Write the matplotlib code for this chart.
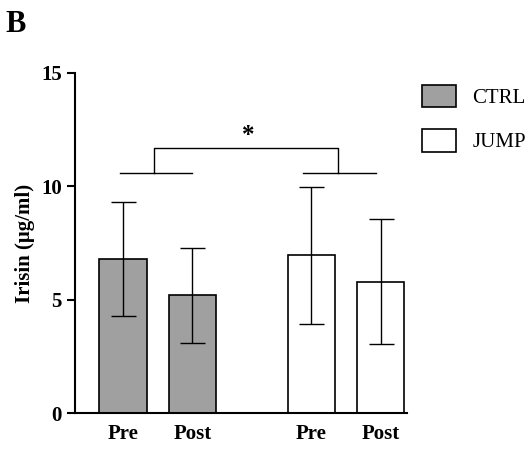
import matplotlib
matplotlib.use("Agg")
import matplotlib.pyplot as plt

plt.rcParams["font.family"] = ["Liberation Serif", "DejaVu Serif"]
plt.rcParams["font.weight"] = "bold"

groups = ["CTRL", "JUMP"]
tick_labels = ["Pre", "Post", "Pre", "Post"]
positions = [0, 1, 2.72, 3.72]
means = [6.8, 5.2, 6.95, 5.8]
errors = [2.5, 2.1, 3.0, 2.75]
colors = ["#a0a0a0", "#a0a0a0", "white", "white"]

fig = plt.figure(figsize=(5.27, 4.55), dpi=100)
ax = fig.add_axes([0.142, 0.092, 0.63, 0.748])

bars = ax.bar(positions, means, width=0.69, color=colors, edgecolor="black", linewidth=1.2)
ax.errorbar(positions, means, yerr=errors, fmt="none", ecolor="black",
            elinewidth=1.0, capsize=9, capthick=1.0)

# significance bracket
ax.plot([-0.05, 1.0], [10.6, 10.6], color="black", lw=1)
ax.plot([2.6, 3.65], [10.6, 10.6], color="black", lw=1)
ax.plot([0.45, 0.45, 3.1, 3.1], [10.6, 11.7, 11.7, 10.6], color="black", lw=1)
ax.text(1.8, 11.75, "*", ha="center", va="bottom", fontsize=18, fontweight="bold")

ax.set_ylim(0, 15)
ax.set_xlim(-0.7, 4.1)
ax.set_yticks([0, 5, 10, 15])
ax.set_xticks(positions)
ax.set_xticklabels(tick_labels)
ax.tick_params(axis="both", labelsize=15, width=1.5, length=6)
ax.tick_params(axis="x", length=0, pad=8)
for s in ["top", "right"]:
    ax.spines[s].set_visible(False)
ax.spines["bottom"].set_visible(False)
ax.spines["left"].set_linewidth(1.5)
ax.axhline(0, xmin=0, xmax=1, color="black", lw=1.5, clip_on=False)
ax.set_ylabel("Irisin (μg/ml)", fontsize=15, fontweight="bold")

ax.legend([bars[0], bars[2]], groups, loc="upper left", bbox_to_anchor=(0.99, 1.02),
          frameon=False, handlelength=1.6, handleheight=1.3,
          labelspacing=1.0, prop={"weight": "normal", "size": 15})

fig.text(0.01, 0.93, "B", fontsize=22, fontweight="bold")
fig.savefig("out.png", dpi=100)
